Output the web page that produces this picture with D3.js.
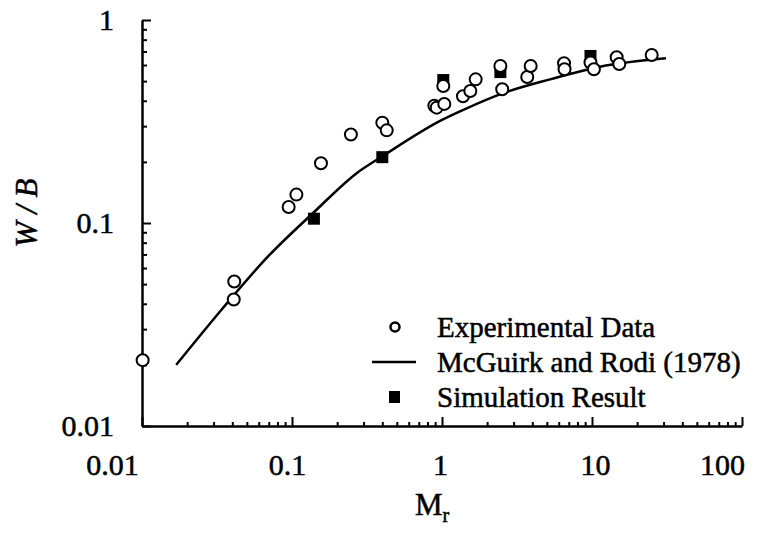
<!DOCTYPE html>
<html>
<head>
<meta charset="utf-8">
<script src="https://cdn.jsdelivr.net/npm/d3@7"></script>
<style>
  body { margin: 0; background: #fff; }
  text { font-family: "Liberation Serif", "Times New Roman", serif; fill: #000; stroke: #000; stroke-width: 0.5px; }
</style>
</head>
<body>
<script>
// experimental data (open circles)
const expX = [0.0101, 0.0412, 0.0409, 0.095, 0.107, 0.156, 0.247, 0.400, 0.428, 0.889, 0.922, 1.036, 1.02, 1.38, 1.545, 1.677, 2.52, 2.45, 3.70, 3.90, 6.51, 6.56, 9.77, 10.3, 14.6, 15.2, 25.0];
const expY = [0.0211, 0.0515, 0.0420, 0.120, 0.138, 0.197, 0.273, 0.312, 0.286, 0.378, 0.370, 0.386, 0.473, 0.421, 0.447, 0.510, 0.456, 0.593, 0.524, 0.593, 0.612, 0.572, 0.617, 0.572, 0.655, 0.607, 0.672];

// simulation result (filled squares)
const simX = [0.14, 0.40, 1.02, 2.45, 9.77];
const simY = [0.105, 0.211, 0.506, 0.554, 0.665];

// McGuirk and Rodi (1978) curve
const modelX = [0.0169, 0.034, 0.07, 0.14, 0.27, 0.40, 1.0, 1.46, 2.56, 5.25, 11.3, 31.1];
const modelY = [0.020, 0.0375, 0.069, 0.113, 0.176, 0.213, 0.322, 0.367, 0.436, 0.510, 0.589, 0.648];

const xTicks = [0.01, 0.1, 1, 10, 100];
const yTicks = [0.01, 0.1, 1];
const legendLabels = ['Experimental Data', 'McGuirk and Rodi (1978)', 'Simulation Result'];

const w = 773;
const h = 535;

const xScale = d3.scaleLog().domain([0.01, 100]).range([142, 742]);
const yScale = d3.scaleLog().domain([0.01, 1]).range([426, 20]);

function minorTicks(lo, hi) {
  const out = [];
  for (let d = lo; d < hi; d *= 10) {
    for (let k = 2; k <= 9; k++) out.push(d * k);
  }
  return out;
}

const svg = d3.select('body')
  .append('svg')
  .attr('width', w)
  .attr('height', h);

// minor ticks
svg.append('g')
  .attr('transform', 'translate(0,' + yScale(0.01) + ')')
  .call(d3.axisBottom(xScale).tickValues(minorTicks(0.01, 100)).tickFormat('').tickSizeInner(-4).tickSizeOuter(0))
  .call(g => g.select('.domain').remove())
  .call(g => g.selectAll('line').attr('stroke-width', 2));

svg.append('g')
  .attr('transform', 'translate(' + xScale(0.01) + ',0)')
  .call(d3.axisLeft(yScale).tickValues(minorTicks(0.01, 1)).tickFormat('').tickSizeInner(-5).tickSizeOuter(0))
  .call(g => g.select('.domain').remove())
  .call(g => g.selectAll('line').attr('stroke-width', 2));

// major ticks + labels (labels in the scan sit a little off their ticks)
const xLabelNudge = [-30, -5, -2, 3, -20];
const xAxis = svg.append('g')
  .attr('transform', 'translate(0,' + yScale(0.01) + ')')
  .call(d3.axisBottom(xScale).tickValues(xTicks).tickFormat(d3.format('~g')).tickSizeInner(-9).tickSizeOuter(0).tickPadding(28));
xAxis.select('.domain').attr('stroke-width', 2.5);
xAxis.selectAll('line').attr('stroke-width', 2);
xAxis.selectAll('text')
  .style('font-size', '30px')
  .attr('dx', (d, i) => xLabelNudge[i]);

const yAxis = svg.append('g')
  .attr('transform', 'translate(' + xScale(0.01) + ',0)')
  .call(d3.axisLeft(yScale).tickValues(yTicks).tickFormat(d3.format('~g')).tickSizeInner(-9).tickSizeOuter(0).tickPadding(28));
yAxis.select('.domain').attr('stroke-width', 2.5);
yAxis.selectAll('line').attr('stroke-width', 2);
yAxis.selectAll('text').style('font-size', '30px');

// axis titles
const xt = svg.append('text')
  .attr('x', 432)
  .attr('y', 515)
  .attr('text-anchor', 'middle')
  .style('font-size', '31px');
xt.append('tspan').text('M');
xt.append('tspan').attr('dy', 7).style('font-size', '20px').text('r');

svg.append('text')
  .attr('transform', 'translate(37,213) rotate(-90)')
  .attr('text-anchor', 'middle')
  .style('font-size', '31px')
  .style('font-style', 'italic')
  .text('W / B');

// model curve
const line = d3.line()
  .x((d, i) => xScale(modelX[i]))
  .y((d, i) => yScale(modelY[i]))
  .curve(d3.curveMonotoneX);

svg.append('path')
  .datum(modelX)
  .attr('d', line)
  .attr('fill', 'none')
  .attr('stroke', '#000')
  .attr('stroke-width', 2.5);

// squares
const sq = 12;
svg.append('g').selectAll('rect')
  .data(simX)
  .enter()
  .append('rect')
  .attr('x', (d) => xScale(d) - sq / 2)
  .attr('y', (d, i) => yScale(simY[i]) - sq / 2)
  .attr('width', sq)
  .attr('height', sq)
  .attr('fill', '#000');

// circles
svg.append('g').selectAll('circle')
  .data(expX)
  .enter()
  .append('circle')
  .attr('cx', (d) => xScale(d))
  .attr('cy', (d, i) => yScale(expY[i]))
  .attr('r', 6)
  .attr('fill', '#fff')
  .attr('stroke', '#000')
  .attr('stroke-width', 2);

// legend
const lg = svg.append('g');
const rowY = [327, 362, 397];
lg.append('circle').attr('cx', 395).attr('cy', rowY[0]).attr('r', 4.5)
  .attr('fill', '#fff').attr('stroke', '#000').attr('stroke-width', 2.5);
lg.append('line').attr('x1', 372).attr('x2', 416).attr('y1', rowY[1]).attr('y2', rowY[1])
  .attr('stroke', '#000').attr('stroke-width', 2.5);
lg.append('rect').attr('x', 389).attr('y', rowY[2] - 6).attr('width', 11).attr('height', 12).attr('fill', '#000');
lg.selectAll('text.lab')
  .data(legendLabels)
  .enter()
  .append('text')
  .attr('class', 'lab')
  .attr('x', 437)
  .attr('y', (d, i) => rowY[i])
  .attr('dy', '0.35em')
  .style('font-size', '29px')
  .text((d) => d);
</script>
</body>
</html>
